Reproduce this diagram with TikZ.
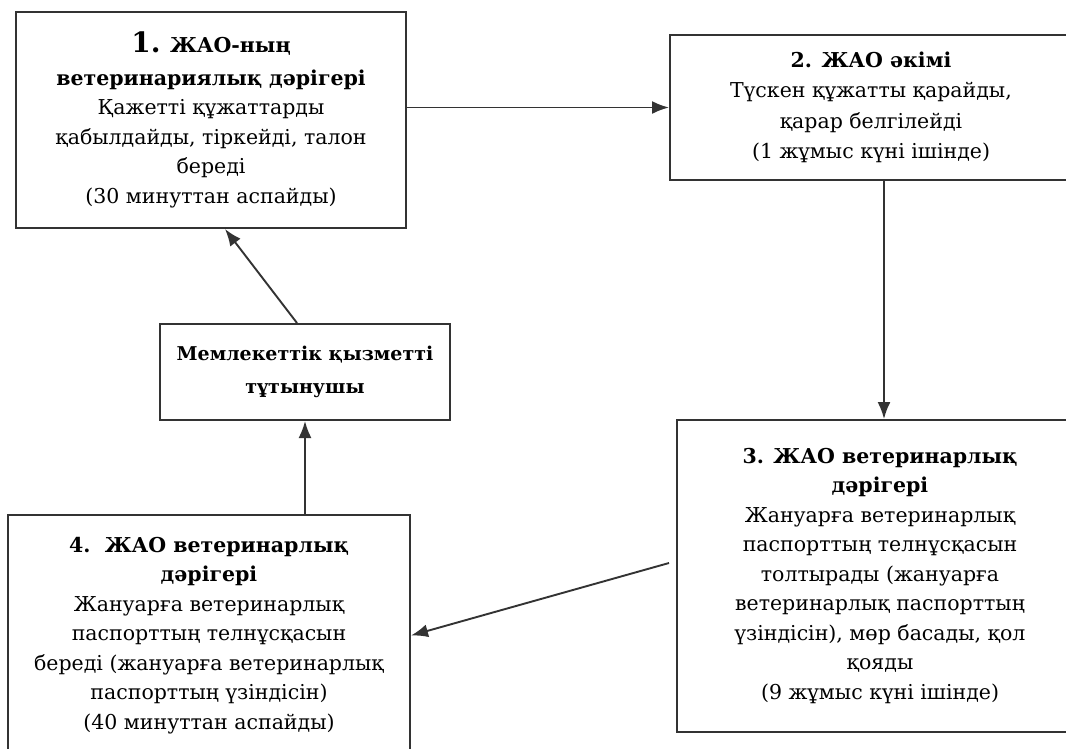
\documentclass[tikz,border=0pt]{standalone}
\usepackage{fontspec}
\setmainfont{DejaVu Serif}
\usetikzlibrary{shapes, arrows.meta, positioning, calc}

\begin{document}
\begin{tikzpicture}[x=1pt, y=-1pt,
    box/.style={draw=black!80, line width=2pt, align=center, inner sep=0pt,
        font=\fontsize{20.5}{29.5}\selectfont},
    arr/.style={-{Latex[length=17pt,width=13pt]}, draw=black!80, line width=1.9pt}]
    \useasboundingbox (0,0) rectangle (1066,748);
    \begin{scope}
    \clip (0,0) rectangle (1066,748);
    % Steps
    \node[box, minimum width=390pt, minimum height=216pt] (vet1) at (211,120)
        {\textbf{{\fontsize{28}{30}\selectfont 1.} ЖАО-ның}\\[3pt]\textbf{ветеринариялық дәрігері}\\Қажетті құжаттарды\\қабылдайды, тіркейді, талон\\береді\\(30 минуттан аспайды)};
    \node[box, minimum width=402pt, minimum height=145pt] (akim) at (871,107.5)
        {\textbf{2. ЖАО әкімі}\\[1pt]Түскен құжатты қарайды,\\[1pt]қарар белгілейді\\[1pt](1 жұмыс күні ішінде)};
    \node[box, minimum width=290pt, minimum height=96pt, font=\fontsize{19}{33}\selectfont] (consumer) at (305,372)
        {\textbf{Мемлекеттік қызметті}\\\textbf{тұтынушы}};
    \node[box, minimum width=406pt, minimum height=312pt] (vet3) at (880,576)
        {\textbf{3. ЖАО ветеринарлық}\\\textbf{дәрігері}\\Жануарға ветеринарлық\\паспорттың телнұсқасын\\толтырады (жануарға\\ветеринарлық паспорттың\\үзіндісін), мөр басады, қол\\қояды\\(9 жұмыс күні ішінде)};
    \node[box, minimum width=402pt, minimum height=241pt] (vet4) at (209,635.5)
        {\textbf{4.\ \ ЖАО ветеринарлық}\\\textbf{дәрігері}\\Жануарға ветеринарлық\\паспорттың телнұсқасын\\береді (жануарға ветеринарлық\\паспорттың үзіндісін)\\(40 минуттан аспайды)};
    \end{scope}
    % Flow
    \draw[arr] (vet1.east |- akim.west) -- (akim.west);
    \draw[arr] ([xshift=13pt]akim.south) -- ([xshift=13pt]akim.south |- vet3.north);
    \draw[arr] ([shift={(-7pt,13pt)}]vet3.west) -- (vet4.east);
    \draw[arr] ([xshift=96pt]vet4.north) -- ([xshift=96pt]vet4.north |- consumer.south);
    \draw[arr] ([xshift=-8pt]consumer.north) -- ([xshift=14pt]vet1.south);
\end{tikzpicture}
\end{document}
